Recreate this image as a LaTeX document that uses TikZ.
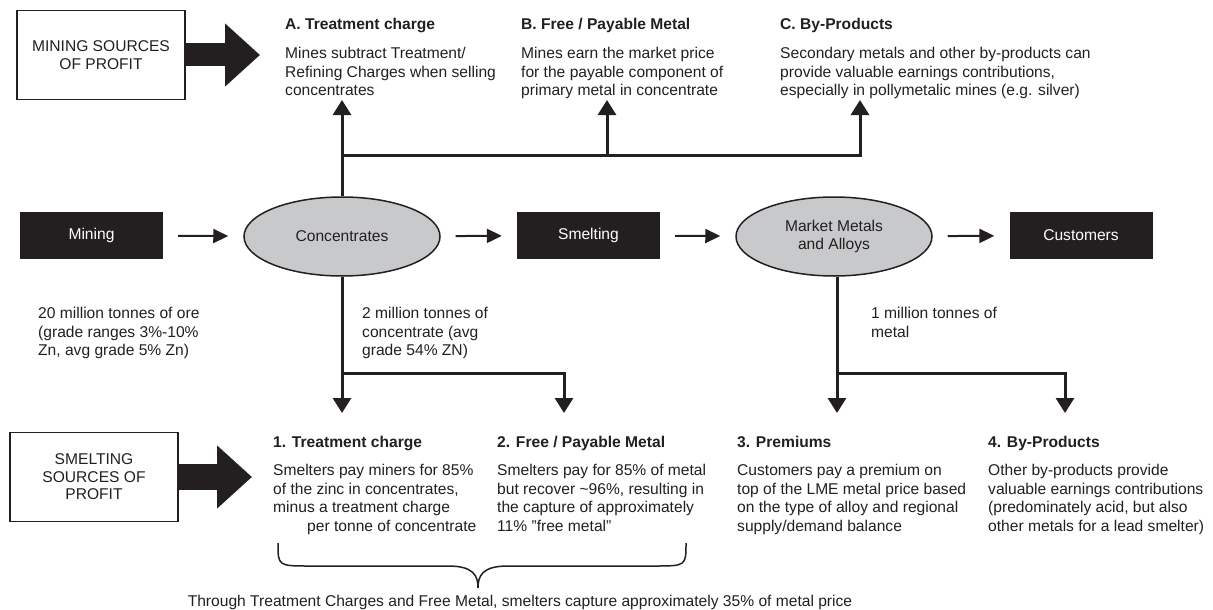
\documentclass[tikz,border=0pt]{standalone}
\usepackage{fontspec}
\setmainfont{Liberation Sans}
\usetikzlibrary{shapes.geometric,arrows.meta}

\definecolor{inkgray}{HTML}{231F20}
\definecolor{poolgray}{HTML}{C8C9CB}

\def\barup{155}
\def\bardown{373}

\begin{document}
\begin{tikzpicture}[x=1pt,y=-1pt,line join=miter,
    every node/.style={font=\fontsize{15.6}{18.5}\selectfont,text=inkgray,inner sep=0pt}]
    \tikzstyle{source box}=[draw=inkgray,line width=1.5pt,fill=white,minimum width=168pt,minimum height=89pt,align=center,font=\fontsize{15.6}{17.5}\selectfont]
    \tikzstyle{stage}=[fill=inkgray,text=white,minimum width=143pt,minimum height=47pt]
    \tikzstyle{pool}=[ellipse,draw=inkgray,line width=1.5pt,fill=poolgray,minimum width=196pt,minimum height=79pt,align=center]
    \tikzstyle{head}=[anchor=north west,font=\fontsize{15.6}{18.5}\selectfont\bfseries]
    \tikzstyle{body}=[anchor=north west,align=left]
    \tikzstyle{flow}=[draw=inkgray,line width=2pt,-{Triangle[length=15pt,width=14pt]},shorten <=15pt,shorten >=15pt]
    \tikzstyle{branch}=[draw=inkgray,line width=3pt,-{Triangle[length=15pt,width=18pt]}]
    \tikzstyle{big arrow}=[draw=inkgray,-{Triangle[length=35pt,width=61pt]}]

    \useasboundingbox (0,0) rectangle (1213,610);

    % Sources of profit boxes
    \node[source box] (mineprofit) at (101,55) {MINING SOURCES\\OF PROFIT};
    \node[source box] (smeltprofit) at (94,477) {SMELTING\\SOURCES OF\\PROFIT};
    \coordinate (minetip) at (260,55);
    \coordinate (smelttip) at (252,477);
    \draw[big arrow,line width=23pt] (mineprofit.east) -- (minetip);
    \draw[big arrow,line width=26pt] (smeltprofit.east) -- (smelttip);

    % Draw the value chain
    \node[stage] (mining) at (91.5,235.5) {Mining};
    \node[pool] (conc) at (342,236.5) {Concentrates};
    \node[stage] (smelt) at (588.5,235.5) {Smelting};
    \node[pool] (market) at (834,236.5) {Market Metals\\and Alloys};
    \node[stage] (cust) at (1081,235.5) {Customers};

    \foreach \from/\to in {mining/conc,conc/smelt,smelt/market,market/cust}
        \draw[flow] (\from) -- (\to);

    % Mining sources of profit
    \node[head] (headA) at (285,18) {A. Treatment charge};
    \node[body] (textA) at (285,47) {Mines subtract Treatment/\\Refining Charges when selling\\concentrates};
    \node[head] (headB) at (521,18) {B. Free / Payable Metal};
    \node[body] (textB) at (521,47) {Mines earn the market price\\for the payable component of\\primary metal in concentrate};
    \node[head] (headC) at (780,18) {C. By-Products};
    \node[body] (textC) at (780,47) {Secondary metals and other by-products can\\provide valuable earnings contributions,\\especially in pollymetalic mines (e.g. silver)};

    % Volumes
    \node[body] (ore) at (38,307) {20 million tonnes of ore\\(grade ranges 3\%-10\%\\Zn, avg grade 5\% Zn)};
    \node[body] (concvol) at (362,307) {2 million tonnes of\\concentrate (avg\\grade 54\% ZN)};
    \node[body] (metalvol) at (871,307) {1 million tonnes of\\metal};

    % Smelting sources of profit
    \node[head] (head1) at (273,436) {1. Treatment charge};
    \node[body] (text1) at (273,464) {Smelters pay miners for 85\%\\of the zinc in concentrates,\\minus a treatment charge\\\hspace*{34pt}per tonne of concentrate};
    \node[head] (head2) at (497,436) {2. Free / Payable Metal};
    \node[body] (text2) at (497,464) {Smelters pay for 85\% of metal\\but recover \textasciitilde96\%, resulting in\\the capture of approximately\\11\% {\char34}free metal{\char34}};
    \node[head] (head3) at (737,436) {3. Premiums};
    \node[body] (text3) at (737,464) {Customers pay a premium on\\top of the LME metal price based\\on the type of alloy and regional\\supply/demand balance};
    \node[head] (head4) at (988,436) {4. By-Products};
    \node[body] (text4) at (988,464) {Other by-products provide\\valuable earnings contributions\\(predominately acid, but also\\other metals for a lead smelter)};

    % Branch arrows
    \coordinate (topbar) at (0,\barup);
    \coordinate (lowbar) at (0,\bardown);
    \coordinate (tipA) at (342,100);
    \coordinate (tipB) at (607,100);
    \coordinate (tipC) at (860,100);
    \coordinate (tip1) at (342,413);
    \coordinate (tip2) at (564,413);
    \coordinate (tip3) at (837,413);
    \coordinate (tip4) at (1065,413);

    \draw[branch] (conc.north) -- (tipA);
    \draw[branch] (tipA |- topbar) -| (tipC);
    \draw[branch] (tipB |- topbar) -- (tipB);

    \draw[branch] (conc.south) -- (tip1);
    \draw[branch] (tip1 |- lowbar) -| (tip2);
    \draw[branch] (tip3 |- market.south) -- (tip3);
    \draw[branch] (tip3 |- lowbar) -| (tip4);

    % Brace and summary
    \coordinate (braceL) at (278,543);
    \coordinate (braceR) at (686,543);
    \coordinate (braceTip) at (478,588);
    \draw[inkgray,line width=1.5pt] (braceL) .. controls (278,566) .. (310,566) -- (448,566)
        .. controls (474,566) and (478,576) .. (braceTip)
        .. controls (478,576) and (482,566) .. (508,566) -- (654,566)
        .. controls (686,566) .. (braceR);
    \node (summary) at (520,602) {Through Treatment Charges and Free Metal, smelters capture approximately 35\% of metal price};
\end{tikzpicture}
\end{document}
